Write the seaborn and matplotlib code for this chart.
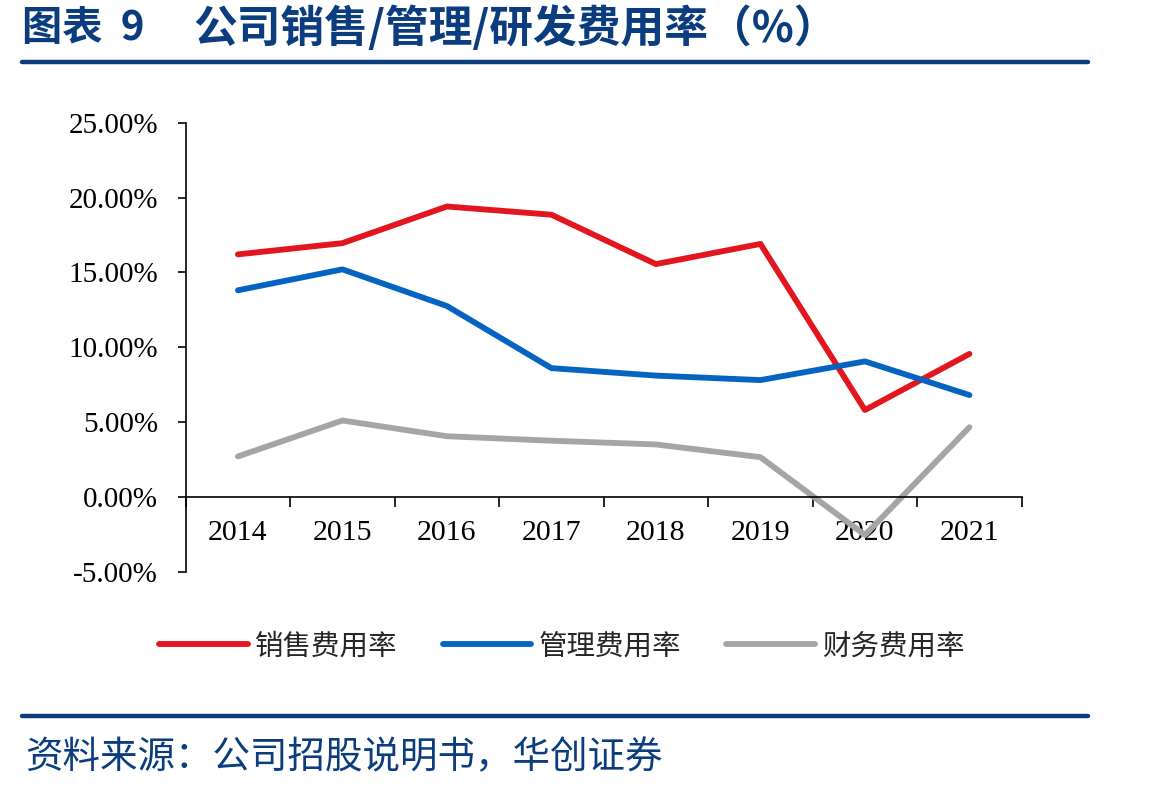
import pandas as pd
import seaborn as sns
import matplotlib.pyplot as plt
from matplotlib.lines import Line2D
from matplotlib.ticker import FixedLocator, PercentFormatter

# data (%)
years = ['2014', '2015', '2016', '2017', '2018', '2019', '2020', '2021']
sales_rate = [16.2, 16.95, 19.4, 18.85, 15.55, 16.9, 5.8, 9.55]
admin_rate = [13.8, 15.2, 12.75, 8.6, 8.1, 7.8, 9.05, 6.8]
finance_rate = [2.7, 5.1, 4.05, 3.75, 3.5, 2.65, -2.55, 4.65]
series_names = ['销售费用率', '管理费用率', '财务费用率']
colors = ['#E3151F', '#0563C1', '#A5A5A5']

title_num = '图表  9'
title_text = '公司销售/管理/研发费用率（%）'
source_text = '资料来源：公司招股说明书，华创证券'
navy = '#0B3D7E'

df = pd.DataFrame({
    'year': years * 3,
    'rate': sales_rate + admin_rate + finance_rate,
    'series': [series_names[0]] * len(years) + [series_names[1]] * len(years)
              + [series_names[2]] * len(years),
})

sns.set_theme(style='white')
plt.rcParams['font.family'] = ['Liberation Serif', 'Noto Sans CJK SC']
plt.rcParams['axes.unicode_minus'] = False
cjk = ['Noto Sans CJK SC', 'DejaVu Sans']

fig = plt.figure(figsize=(11.49, 7.92), dpi=100)
ax = fig.add_axes([0.1616, 0.2782, 0.7276, 0.5669])

sns.lineplot(data=df, x='year', y='rate', hue='series', palette=colors,
             hue_order=series_names, linewidth=4.2, ax=ax, legend=False,
             sort=False)

ax.set_xlim(-0.5, len(years) - 0.5)
ax.set_ylim(-5, 25)
ax.yaxis.set_major_locator(FixedLocator([-5, 0, 5, 10, 15, 20, 25]))
ax.yaxis.set_major_formatter(PercentFormatter(decimals=2))
ax.set_xlabel('')
ax.set_ylabel('')

for s in ['top', 'right']:
    ax.spines[s].set_visible(False)
ax.spines['bottom'].set_position(('data', 0))
for s in ['left', 'bottom']:
    ax.spines[s].set_color('black')
    ax.spines[s].set_linewidth(1.2)

ax.set_xticks(range(len(years)))
ax.set_xticklabels(years)
ax.set_xticks([i - 0.5 for i in range(len(years) + 1)], minor=True)
ax.tick_params(axis='x', which='major', length=0, pad=17, labelsize=21.5,
               colors='black')
ax.tick_params(axis='x', which='minor', length=7, width=1.2, direction='out',
               color='black', bottom=True)
ax.tick_params(axis='y', length=6, width=1.2, direction='out', pad=14,
               labelsize=21, colors='black', left=True)

handles = [Line2D([], [], color=c, lw=4.2, solid_capstyle='round') for c in colors]
fig.legend(handles, series_names, loc='center', bbox_to_anchor=(0.489, 0.184),
           ncol=3, frameon=False, handlelength=3.1, handletextpad=0.25,
           columnspacing=1.6, prop={'family': cjk, 'size': 20.5})

fig.text(0.019, 0.964, title_num, ha='left', va='center', color=navy,
         fontsize=29, fontweight='bold', family=cjk)
fig.text(0.168, 0.964, title_text, ha='left', va='center', color=navy,
         fontsize=31.5, fontweight='bold', family=cjk)
fig.text(0.022, 0.043, source_text, ha='left', va='center', color=navy,
         fontsize=27, family=cjk)

fig.add_artist(Line2D([0.019, 0.947], [0.9217, 0.9217], color=navy, lw=3.2,
                      transform=fig.transFigure))
fig.add_artist(Line2D([0.019, 0.947], [0.0960, 0.0960], color=navy, lw=3.2,
                      transform=fig.transFigure))

fig.savefig('out.png', dpi=100)
